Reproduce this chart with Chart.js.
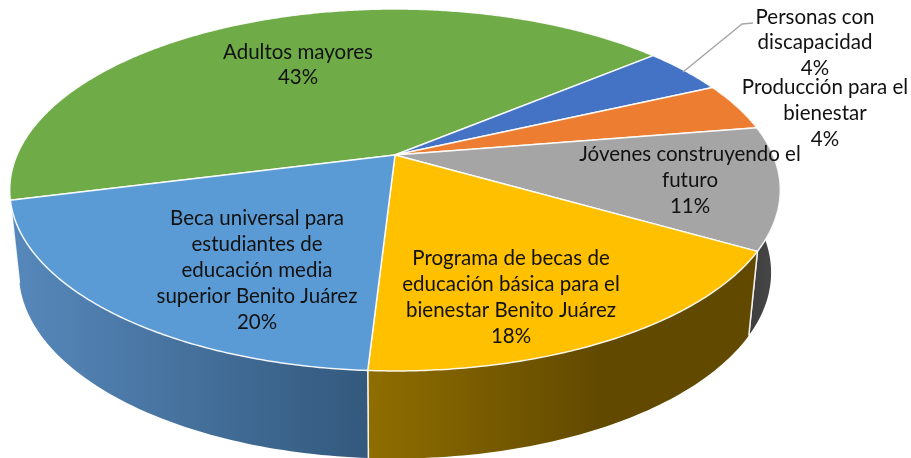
<!DOCTYPE html>
<html><head><meta charset="utf-8">
<style>html,body{margin:0;padding:0;background:#fff}canvas{display:block}</style>
<script src="https://cdn.jsdelivr.net/npm/chart.js@4"></script>
</head><body><canvas id="c" width="911" height="458"></canvas>
<script>
const categories = ["Adultos mayores","Personas con discapacidad","Producción para el bienestar","Jóvenes construyendo el futuro","Programa de becas de educación básica para el bienestar Benito Juárez","Beca universal para estudiantes de educación media superior Benito Juárez"];
const values = [42.9, 4.2, 4.3, 10.9, 17.6, 20.1];
const percentLabels = ["43%","4%","4%","11%","18%","20%"];
const topColors = ["#6FAB46","#4472C4","#ED7D31","#A5A5A5","#FFC000","#5B9BD5"];
const wallColors = [["#43682B","#43682B"],["#294577","#294577"],["#8E4B1D","#8E4B1D"],["#3E3E3E","#484848"],["#8F6E00","#624900"],["#5687BA","#33597D"]];
const wallGradientX = [[0,1],[0,1],[0,1],[750,778],[367,600],[20,367]];
const labelLines = [["Adultos mayores"],["Personas con","discapacidad"],["Producción para el","bienestar"],["Jóvenes construyendo el","futuro"],["Programa de becas de","educación básica para el","bienestar Benito Juárez"],["Beca universal para","estudiantes de","educación media","superior Benito Juárez"]];
const labelCenterX = [298,815,825,690,511,257];
const labelFirstY = [52,17,87,154,258,218];
const labelLeading = [25,25.5,26,26,26,26];

const TOP = {cx:395, cy:155, a:378, b:174.2, p:0.1933};
const BOTTOM = {cx:395, cy:236.6, a:369, b:179, p:0.1933};
const DEG = Math.PI/180;
const WALL_FROM = -20*DEG, WALL_TO = 165.9*DEG;
function project(t, q){
  const u=Math.cos(t), v=Math.sin(t), w=1-q.p*v;
  return [q.cx+q.a*u/w, q.cy+q.b*v/w];
}
const pie3d = {
  id:'pie3d',
  beforeDatasetsDraw(chart){
    const ctx=chart.ctx, arcs=chart.getDatasetMeta(0).data;
    ctx.save();
    ctx.lineJoin='round';
    // side wall
    arcs.forEach((el,i)=>{
      let {startAngle:s,endAngle:e}=el.getProps(['startAngle','endAngle'],true);
      const mid=(s+e)/2;
      const k=Math.floor((mid+Math.PI/2)/(2*Math.PI));
      s-=k*2*Math.PI; e-=k*2*Math.PI;
      const lo=Math.max(s,WALL_FROM), hi=Math.min(e,WALL_TO);
      if(hi<=lo) return;
      const g=ctx.createLinearGradient(wallGradientX[i][0],0,wallGradientX[i][1],0);
      g.addColorStop(0,wallColors[i][0]); g.addColorStop(1,wallColors[i][1]);
      ctx.beginPath();
      const n=Math.ceil((hi-lo)/DEG);
      for(let j=0;j<=n;j++){const p=project(lo+(hi-lo)*j/n,TOP); j?ctx.lineTo(p[0],p[1]):ctx.moveTo(p[0],p[1]);}
      for(let j=n;j>=0;j--){const p=project(lo+(hi-lo)*j/n,BOTTOM); ctx.lineTo(p[0],p[1]);}
      ctx.closePath();
      ctx.fillStyle=g; ctx.fill();
      ctx.strokeStyle='rgba(255,255,255,0.85)'; ctx.lineWidth=1.5;
      [lo,hi].forEach(t=>{
        if(t===WALL_FROM||t===WALL_TO) return;
        const a=project(t,TOP), b=project(t,BOTTOM);
        ctx.beginPath(); ctx.moveTo(a[0],a[1]); ctx.lineTo(b[0],b[1]); ctx.stroke();
      });
    });
    // top face
    arcs.forEach((el)=>{
      const {startAngle:s,endAngle:e}=el.getProps(['startAngle','endAngle'],true);
      ctx.beginPath(); ctx.moveTo(TOP.cx,TOP.cy);
      const n=Math.ceil((e-s)/(0.5*DEG));
      for(let j=0;j<=n;j++){const p=project(s+(e-s)*j/n,TOP); ctx.lineTo(p[0],p[1]);}
      ctx.closePath();
      ctx.fillStyle=el.options.backgroundColor; ctx.fill();
      ctx.strokeStyle='rgba(255,255,255,0.9)'; ctx.lineWidth=1.5; ctx.stroke();
    });
    // leader line
    ctx.beginPath(); ctx.moveTo(683,72); ctx.lineTo(742,24); ctx.lineTo(753,23);
    ctx.strokeStyle='#A6A6A6'; ctx.lineWidth=1.5; ctx.stroke();
    // labels
    ctx.fillStyle='#111'; ctx.font='20.5px Lato'; ctx.textAlign='center'; ctx.textBaseline='middle';
    categories.forEach((c,i)=>{
      const lines=labelLines[i].concat(percentLabels[i]);
      lines.forEach((t,j)=>ctx.fillText(t,labelCenterX[i],labelFirstY[i]+j*labelLeading[i]));
    });
    ctx.restore();
    return false;
  }
};
new Chart(document.getElementById('c'),{
  type:'pie',
  data:{labels:categories,datasets:[{data:values,backgroundColor:topColors}]},
  options:{responsive:false,animation:false,rotation:255.7,
    plugins:{legend:{display:false},tooltip:{enabled:false}}},
  plugins:[pie3d]
});
</script></body></html>
